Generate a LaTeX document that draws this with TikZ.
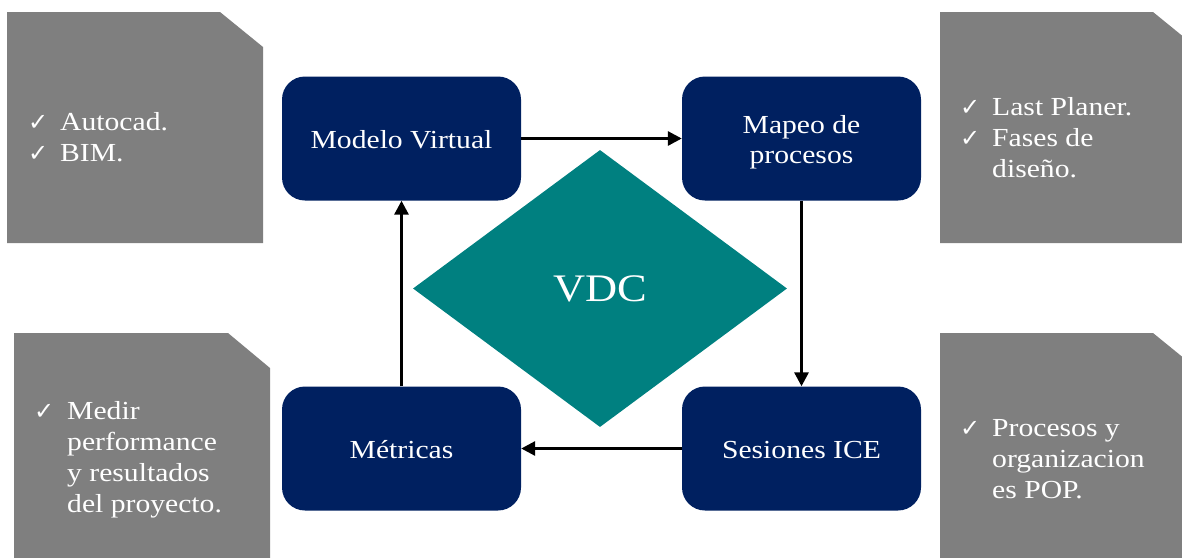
\documentclass[tikz,border=0pt]{standalone}
\usepackage{fontspec}
\setmainfont{Liberation Serif}[FakeStretch=1.14]
\newfontfamily\chkfont{DejaVu Sans}
\usetikzlibrary{shapes.geometric,arrows.meta}
\definecolor{navy}{HTML}{002060}
\definecolor{tealfill}{HTML}{008080}
\definecolor{panel}{HTML}{7F7F7F}
% check mark in a fixed-width slot so the item texts line up
\newcommand{\chkmark}[1]{\makebox[#1][l]{\chkfont\fontsize{24}{24}\selectfont ✓}}
\newcommand{\chk}{\chkmark{32pt}}
\newcommand{\blank}{\makebox[32pt][l]{}}
\tikzset{
  stage/.style={fill=navy, rounded corners=23pt, minimum width=239pt,
    minimum height=124pt, text=white, align=center, inner sep=0pt,
    text height=19pt, text depth=0pt,
    font=\fontsize{26}{30}\selectfont},
  flow/.style={line width=3pt, -{Triangle[length=14pt,width=14pt]}},
  notes/.style={text=white, inner sep=0pt, anchor=base west,
    font=\fontsize{26}{31}\selectfont},
}
\begin{document}
\begin{tikzpicture}[x=1pt,y=-1pt]
\useasboundingbox (0,0) rectangle (1182,557);
\clip (0,0) rectangle (1182,557);

% grey note panels with a clipped corner
\fill[panel] (7,12) -- (220,12) -- (263,47) -- (263,243) -- (7,243) -- cycle;
\fill[panel] (940,12) -- (1153,12) -- (1196,47) -- (1196,243) -- (940,243) -- cycle;
\fill[panel] (14,333) -- (228,333) -- (270,368) -- (270,570) -- (14,570) -- cycle;
\fill[panel] (940,333) -- (1153,333) -- (1196,368) -- (1196,570) -- (940,570) -- cycle;

% central diamond
\node[diamond, fill=tealfill, minimum width=374pt, minimum height=277pt,
  inner sep=0pt, text=white, font=\fontsize{39}{39}\selectfont]
  (vdc) at (600,288.5) {VDC};

% the four stages
\node[stage] (modelo)   at (401.5,138.5) {Modelo Virtual};
\node[stage, text height=49pt] (mapeo) at (801.5,138.5) {Mapeo de\\procesos};
\node[stage] (metricas) at (401.5,448.5) {Métricas};
\node[stage] (sesiones) at (801.5,448.5) {Sesiones ICE};

% cycle of arrows
\draw[flow] (modelo.east) -- (mapeo.west);
\draw[flow] (mapeo.south) -- (sesiones.north);
\draw[flow] (sesiones.west) -- (metricas.east);
\draw[flow] (metricas.north) -- (modelo.south);

% notes
\node[notes] (tlnote) at (28,130)
  {\begin{tabular}[t]{@{}l@{}l@{}}\chk&Autocad.\\\chk&BIM.\end{tabular}};
\node[notes] (trnote) at (960,115)
  {\begin{tabular}[t]{@{}l@{}l@{}}\chk&Last Planer.\\\chk&Fases de\\\blank&diseño.\end{tabular}};
\node[notes] (blnote) at (34,419)
  {\begin{tabular}[t]{@{}l@{}l@{}}\chkmark{33pt}&Medir\\&performance\\&y resultados\\&del proyecto.\end{tabular}};
\node[notes] (brnote) at (960,436)
  {\begin{tabular}[t]{@{}l@{}l@{}}\chk&Procesos y\\\blank&organizacion\\\blank&es POP.\end{tabular}};
\end{tikzpicture}
\end{document}
